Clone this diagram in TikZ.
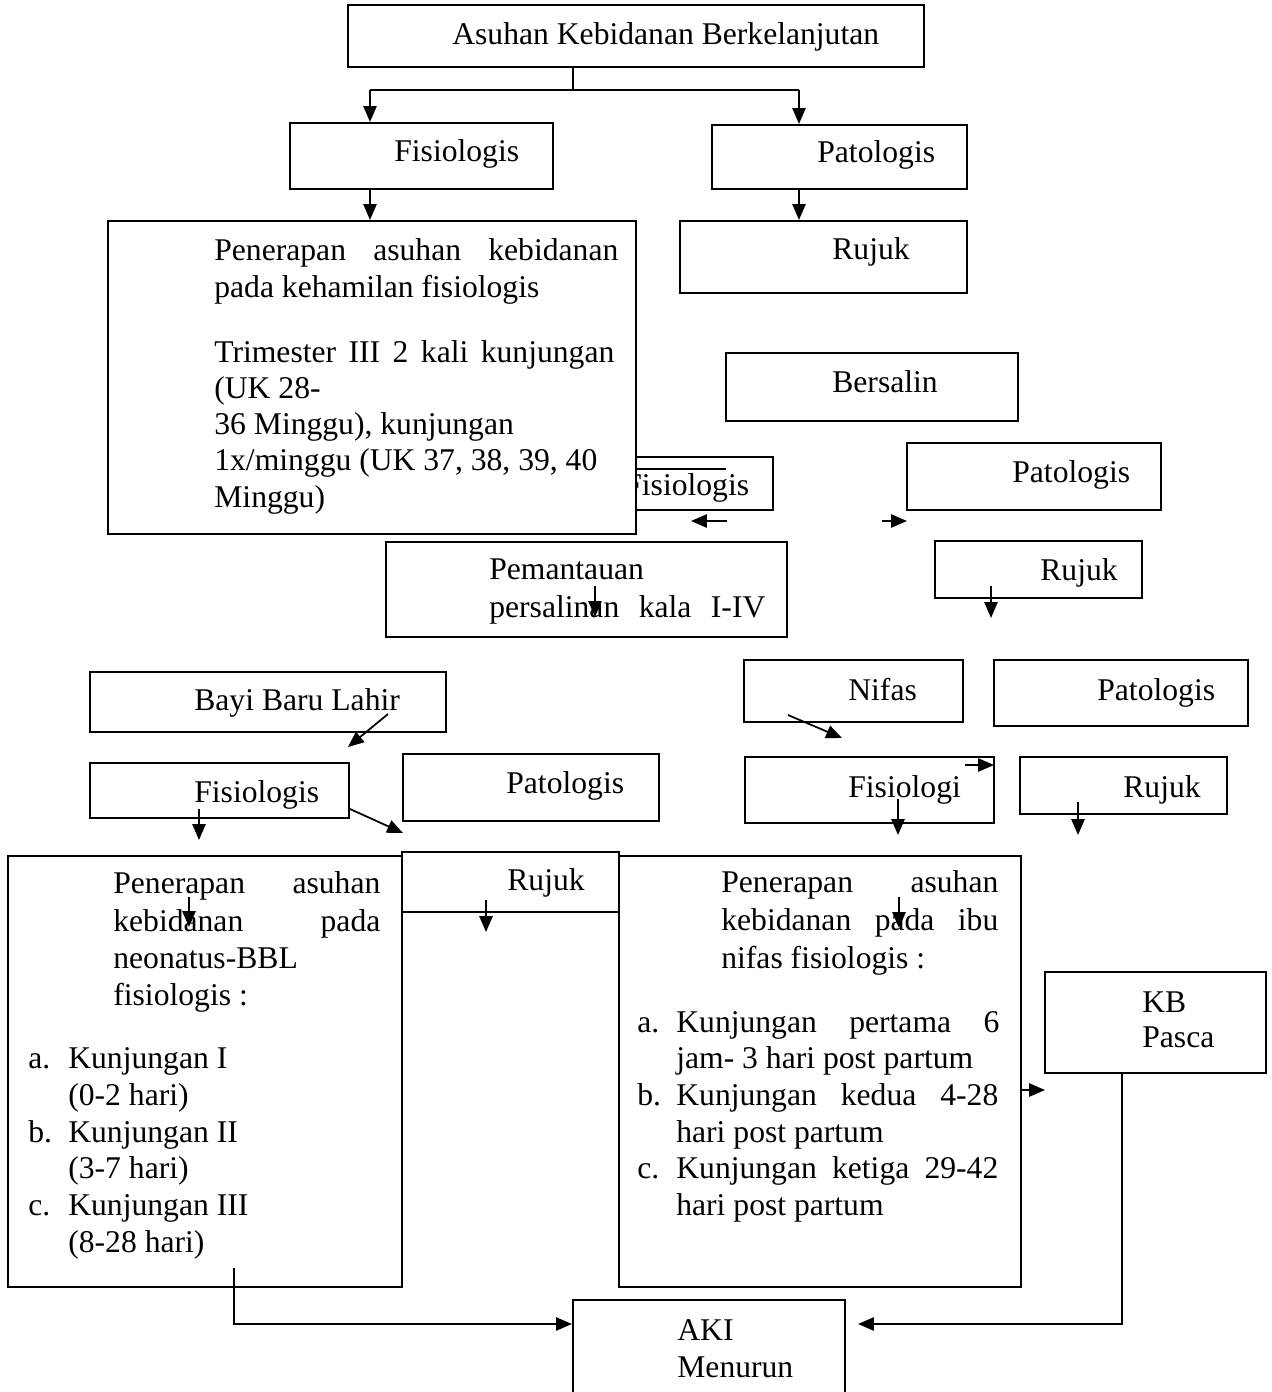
\documentclass[tikz,border=0pt]{standalone}
\usepackage{fontspec}
\setmainfont{Liberation Serif}
\usetikzlibrary{positioning,fit,arrows.meta}
\newlength{\px}\setlength{\px}{0.02cm}
\newcommand{\jline}[2]{\makebox[#1\px][s]{#2}}

\begin{document}
\begin{tikzpicture}[x=0.02cm, y=-0.02cm,
  font=\fontsize{18}{21}\selectfont,
  box/.style={draw=black, line width=1.2pt, fill=white, inner sep=0pt},
  lbl/.style={inner sep=0pt, anchor=base west},
  arr/.style={-{Triangle[length=9pt, width=7.5pt]}, line width=1pt}]

  \useasboundingbox (0,0) rectangle (1271,1392);
  \clip (0,0) rectangle (1271,1392);

  % Box hidden behind the pregnancy box
  \node[box, fit={(520,457) (773,510)}] (fis2) {};
  \node[lbl] (fis2-t) at (624,495) {Fisiologis};
  \coordinate (stray-a) at (600,469);
  \coordinate (stray-b) at (726,469);
  \draw[line width=1.2pt] (stray-a) -- (stray-b);

  % Boxes
  \foreach \n/\xa/\ya/\xb/\yb in {top/348/5/924/67, fis1/290/123/553/189,
      pat1/712/125/967/189, keh/108/221/636/534, rjk1/680/221/967/293,
      bers/726/353/1018/421, pat2/907/443/1161/510, pem/386/542/787/637,
      rjk2/935/541/1142/598, bbl/90/672/446/732, nifas/744/660/963/722,
      pat3/994/660/1248/726, fis3/90/763/349/818, pat4/403/754/659/821,
      fis4/745/757/994/823, rjk3/1020/757/1227/814, tbbl/8/856/402/1287,
      tnif/619/856/1021/1287, rjk4/402/852/619/912, kb/1045/972/1266/1073,
      aki/573/1300/845/1420}
    \node[box, fit={(\xa,\ya) (\xb,\yb)}] (\n) {};

  % Single labels
  \node[lbl] (top-t) at (452,45) {Asuhan Kebidanan Berkelanjutan};
  \node[lbl] (fis1-t) at (394,162) {Fisiologis};
  \node[lbl] (pat1-t) at (817,163) {Patologis};
  \node[lbl] (rjk1-t) at (832,259) {Rujuk};
  \node[lbl] (bers-t) at (832,392) {Bersalin};
  \node[lbl] (pat2-t) at (1012,482) {Patologis};
  \node[lbl] (rjk2-t) at (1040,580) {Rujuk};
  \node[lbl] (nifas-t) at (848,700) {Nifas};
  \node[lbl] (pat3-t) at (1097,700) {Patologis};
  \node[lbl] (bbl-t) at (194,710) {Bayi Baru Lahir};
  \node[lbl] (fis3-t) at (194,802) {Fisiologis};
  \node[lbl] (pat4-t) at (506,793) {Patologis};
  \node[lbl] (fis4-t) at (848,797) {Fisiologi};
  \node[lbl] (rjk3-t) at (1123,797) {Rujuk};
  \node[lbl] (rjk4-t) at (507,890) {Rujuk};
  \node[lbl] (kb-t1) at (1142,1012) {KB};
  \node[lbl] (kb-t2) at (1142,1047) {Pasca};
  \node[lbl] (aki-t1) at (677,1340) {AKI};
  \node[lbl] (aki-t2) at (677,1377) {Menurun};

  % Pregnancy text
  \foreach \y/\t [count=\i] in {260/{\jline{404}{Penerapan asuhan kebidanan}},
      297/{pada kehamilan fisiologis}, 362/{\jline{400}{Trimester III 2 kali kunjungan}},
      398/{(UK 28-}, 434/{36 Minggu), kunjungan}, 470/{1x/minggu (UK 37, 38, 39, 40},
      507/{Minggu)}}
    \node[lbl] (keh-\i) at (214,\y) {\t};

  % Labour monitoring text
  \node[lbl] (pem-1) at (489,579) {Pemantauan};
  \node[lbl] (pem-2) at (489,617) {\jline{276}{persalinan kala I-IV}};

  % Newborn text
  \foreach \y/\t [count=\i] in {893/{\jline{267}{Penerapan asuhan}},
      931/{\jline{267}{kebidanan pada}}, 968/{neonatus-BBL}, 1005/{fisiologis :}}
    \node[lbl] (tbbl-\i) at (113,\y) {\t};
  \foreach \y/\t [count=\i] in {1068/a., 1142/b., 1215/c.}
    \node[lbl] (tbbl-m\i) at (28,\y) {\t};
  \foreach \y/\t [count=\i] in {1068/{Kunjungan I}, 1105/{(0-2 hari)},
      1142/{Kunjungan II}, 1178/{(3-7 hari)}, 1215/{Kunjungan III}, 1252/{(8-28 hari)}}
    \node[lbl] (tbbl-k\i) at (68,\y) {\t};

  % Postpartum text
  \foreach \y/\t [count=\i] in {892/{\jline{277}{Penerapan asuhan}},
      930/{\jline{277}{kebidanan pada ibu}}, 968/{nifas fisiologis :}}
    \node[lbl] (tnif-\i) at (721,\y) {\t};
  \foreach \y/\t [count=\i] in {1032/a., 1105/b., 1178/c.}
    \node[lbl] (tnif-m\i) at (637,\y) {\t};
  \foreach \y/\t [count=\i] in {1032/{\jline{323}{Kunjungan pertama 6}},
      1068/{jam- 3 hari post partum}, 1105/{\jline{322}{Kunjungan kedua 4-28}},
      1142/{hari post partum}, 1178/{\jline{322}{Kunjungan ketiga 29-42}},
      1215/{hari post partum}}
    \node[lbl] (tnif-k\i) at (676,\y) {\t};

  % Arrows between boxes
  \coordinate (split) at (573,90);
  \coordinate (bl) at (370,90);
  \coordinate (br) at (799,90);
  \draw[line width=0.9pt] (split |- top.south) -- (split);
  \draw[line width=0.9pt] (bl) -- (br);
  \draw[arr] (bl) -- (bl |- fis1.north);
  \draw[arr] (br) -- (br |- pat1.north);
  \draw[arr] (bl |- fis1.south) -- (bl |- keh.north);
  \draw[arr] (br |- pat1.south) -- (br |- rjk1.north);

  % Loose arrows
  \foreach \i/\xa/\ya/\xb/\yb in {1/727/521/691/521, 2/882/521/907/521,
      3/595/586/595/617, 4/991/586/991/618, 5/388/714/348/747,
      6/788/715/842/738, 7/199/809/199/840, 8/350/809/403/833,
      9/965/765/994/765, 10/898/799/898/835, 11/1078/802/1078/835,
      12/486/900/486/932, 13/189/897/189/927, 14/899/897/899/928,
      15/1022/1090/1045/1090}
  {
    \coordinate (as-\i) at (\xa,\ya);
    \coordinate (ae-\i) at (\xb,\yb);
    \draw[arr] (as-\i) -- (ae-\i);
  }

  % Arrows into AKI
  \coordinate (lstart) at (234,1268);
  \coordinate (lbend) at (234,1324);
  \coordinate (rbend) at (1122,1324);
  \draw[arr] (lstart) -- (lbend) -- (lbend -| aki.west);
  \draw[arr, shorten >=0.24cm] (rbend |- kb.south) -- (rbend) -- (rbend -| aki.east);

\end{tikzpicture}
\end{document}
